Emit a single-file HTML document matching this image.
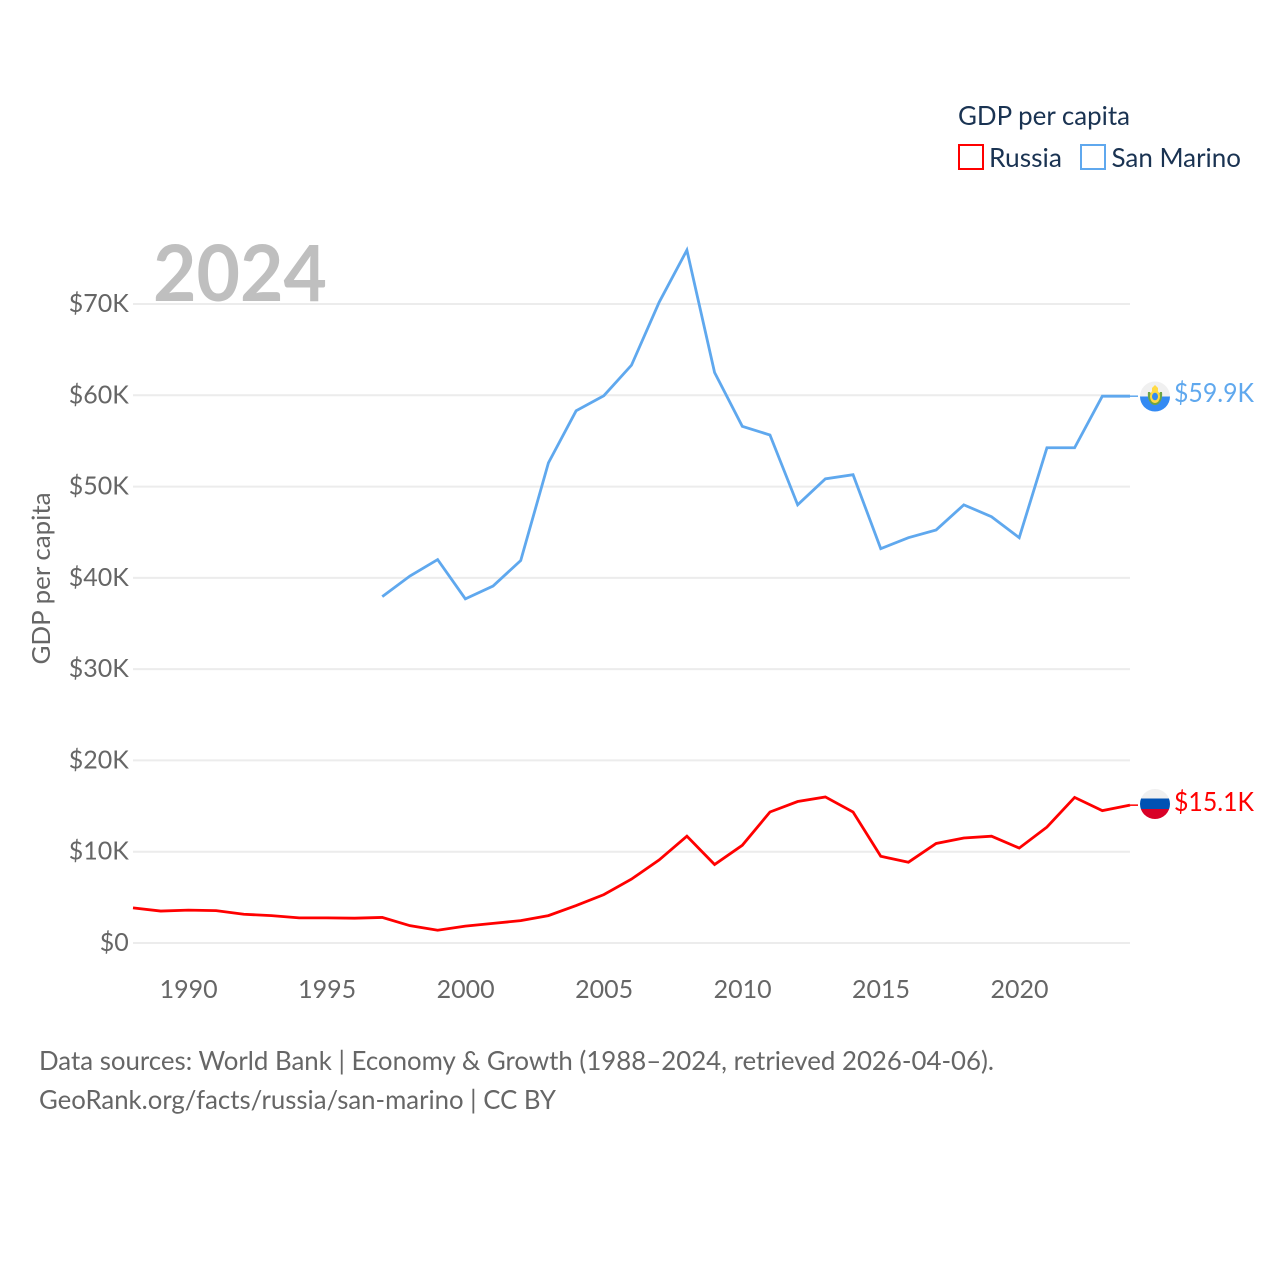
<!DOCTYPE html>
<html lang="en">
<head>
<meta charset="utf-8">
<title>GDP per capita: Russia and San Marino</title>
<style>
html,body{margin:0;padding:0;background:#fff;width:1280px;height:1280px;overflow:hidden}
svg{display:block}
text{font-family:"Lato","Carlito","Liberation Sans",sans-serif}
</style>
</head>
<body>
<svg id="chart" width="1280" height="1280" viewBox="0 0 1280 1280" xmlns="http://www.w3.org/2000/svg">
  <rect width="1280" height="1280" fill="#fff"/>
  <g id="grid"></g>
  <text x="153" y="301" font-size="78" font-weight="700" fill="#bfbfbf" textLength="174" lengthAdjust="spacingAndGlyphs">2024</text>
  <g id="yticks"></g>
  <g id="xticks"></g>
  <text transform="translate(50,578.5) rotate(-90)" text-anchor="middle" font-size="25" fill="#666" textLength="172" lengthAdjust="spacingAndGlyphs">GDP per capita</text>
  <g id="series"></g>

  <g>
    <text x="958" y="125" font-size="26" fill="#1a3352" textLength="172" lengthAdjust="spacingAndGlyphs">GDP per capita</text>
    <g>
      <rect x="959" y="145" width="24" height="24" fill="#fff" stroke="#ff0000" stroke-width="2"/>
      <text x="989" y="167" font-size="26" fill="#1a3352" textLength="73" lengthAdjust="spacingAndGlyphs">Russia</text>
    </g>
    <g>
      <rect x="1081" y="145" width="24" height="24" fill="#fff" stroke="#5fa8ee" stroke-width="2"/>
      <text x="1111.5" y="167" font-size="26" fill="#1a3352" textLength="129.5" lengthAdjust="spacingAndGlyphs">San Marino</text>
    </g>
  </g>

  <g id="flag-sm">
    <clipPath id="clip-sm"><circle cx="1155" cy="396.5" r="15"/></clipPath>
    <g clip-path="url(#clip-sm)">
      <rect x="1140" y="381" width="30" height="15.5" fill="#f0f0f0"/>
      <rect x="1140" y="396.5" width="30" height="15.5" fill="#338af3"/>
    </g>
    <path d="M1148 392 C1147 400 1151 405 1155 405 C1159 405 1163 400 1162 392 L1160 392 L1155 403 L1150 392 Z" fill="#6da544"/>
    <ellipse cx="1155" cy="396.5" rx="5" ry="6.5" fill="#ffda44"/>
    <ellipse cx="1155" cy="396.5" rx="3" ry="3.7" fill="#338af3"/>
    <path d="M1152 391 L1152 388 L1155 385 L1158 388 L1158 391 Z" fill="#ffda44"/>
  </g>
  <text id="label-sm" x="1174" y="402" font-size="26" fill="#5fa8ee" textLength="80" lengthAdjust="spacingAndGlyphs">$59.9K</text>

  <g id="flag-ru">
    <clipPath id="clip-ru"><circle cx="1155" cy="804" r="15"/></clipPath>
    <g clip-path="url(#clip-ru)">
      <rect x="1140" y="789" width="30" height="9.5" fill="#f0f0f0"/>
      <rect x="1140" y="798.5" width="30" height="10.5" fill="#0052b4"/>
      <rect x="1140" y="809" width="30" height="10" fill="#d80027"/>
    </g>
  </g>
  <text id="label-ru" x="1174" y="811" font-size="26" fill="#ff0000" textLength="80" lengthAdjust="spacingAndGlyphs">$15.1K</text>

  <g>
    <text x="39" y="1070" font-size="26" fill="#666" textLength="955" lengthAdjust="spacingAndGlyphs">Data sources: World Bank | Economy &amp; Growth (1988–2024, retrieved 2026-04-06).</text>
    <text x="39" y="1109" font-size="26" fill="#666" textLength="517" lengthAdjust="spacingAndGlyphs">GeoRank.org/facts/russia/san-marino | CC BY</text>
  </g>
</svg>
<script>
const years = [1988,1989,1990,1991,1992,1993,1994,1995,1996,1997,1998,1999,2000,2001,2002,2003,2004,2005,2006,2007,2008,2009,2010,2011,2012,2013,2014,2015,2016,2017,2018,2019,2020,2021,2022,2023,2024];
const russiaValues = [3.85,3.5,3.6,3.55,3.15,3.0,2.75,2.75,2.72,2.8,1.9,1.4,1.85,2.15,2.45,3.0,4.1,5.3,7.0,9.1,11.7,8.6,10.7,14.35,15.5,16.0,14.35,9.5,8.85,10.9,11.5,11.7,10.4,12.7,15.95,14.5,15.1];
const sanMarinoValues = [null,null,null,null,null,null,null,null,null,37.95,40.2,42.0,37.7,39.1,41.9,52.6,58.3,59.95,63.3,70.2,75.9,62.5,56.6,55.65,48.0,50.85,51.3,43.2,44.4,45.25,48.0,46.7,44.4,54.25,54.25,59.9,59.9];
const yTickValues = [0,10,20,30,40,50,60,70];
const yTickLabels = ['$0','$10K','$20K','$30K','$40K','$50K','$60K','$70K'];
const xTickValues = [1990,1995,2000,2005,2010,2015,2020];

const NS = 'http://www.w3.org/2000/svg';
const xScale = function (year) { return 133 + (year - 1988) * (997 / 36); };
const yScale = function (value) { return 943 - value * (639 / 70); };

const grid = document.getElementById('grid');
const yticks = document.getElementById('yticks');
const xticks = document.getElementById('xticks');
const series = document.getElementById('series');

yTickValues.forEach(function (v, i) {
  const line = document.createElementNS(NS, 'line');
  
  
  line.setAttribute('x1', 133);
  line.setAttribute('x2', 1130);
  line.setAttribute('y1', yScale(v));
  line.setAttribute('y2', yScale(v));
  line.setAttribute('stroke', '#ececec');
  line.setAttribute('stroke-width', 2);
  grid.appendChild(line);

  const label = document.createElementNS(NS, 'text');
  
  
  label.setAttribute('x', 128.8);
  label.setAttribute('y', yScale(v) + 8);
  label.setAttribute('text-anchor', 'end');
  label.setAttribute('font-size', 25);
  label.setAttribute('fill', '#666');
  label.textContent = yTickLabels[i];
  yticks.appendChild(label);
});

xTickValues.forEach(function (year) {
  const label = document.createElementNS(NS, 'text');
  
  
  label.setAttribute('x', xScale(year) + 0.3);
  label.setAttribute('y', 998);
  label.setAttribute('text-anchor', 'middle');
  label.setAttribute('font-size', 25);
  label.setAttribute('fill', '#666');
  label.textContent = String(year);
  xticks.appendChild(label);
});

function pathFor(values) {
  let d = '';
  values.forEach(function (v, i) {
    if (v === null) return;
    d += (d === '' ? 'M' : 'L') + xScale(years[i]).toFixed(2) + ' ' + yScale(v).toFixed(2);
  });
  return d;
}

const russiaLine = document.createElementNS(NS, 'path');


russiaLine.setAttribute('d', pathFor(russiaValues));
russiaLine.setAttribute('fill', 'none');
russiaLine.setAttribute('stroke', '#ff0000');
russiaLine.setAttribute('stroke-width', 2.8);
series.appendChild(russiaLine);

const sanMarinoLine = document.createElementNS(NS, 'path');


sanMarinoLine.setAttribute('d', pathFor(sanMarinoValues));
sanMarinoLine.setAttribute('fill', 'none');
sanMarinoLine.setAttribute('stroke', '#5fa8ee');
sanMarinoLine.setAttribute('stroke-width', 2.8);
series.appendChild(sanMarinoLine);

const russiaConnector = document.createElementNS(NS, 'line');


russiaConnector.setAttribute('x1', 1130);
russiaConnector.setAttribute('x2', 1138);
russiaConnector.setAttribute('y1', yScale(russiaValues[russiaValues.length - 1]));
russiaConnector.setAttribute('y2', yScale(russiaValues[russiaValues.length - 1]));
russiaConnector.setAttribute('stroke', '#ff0000');
russiaConnector.setAttribute('stroke-width', 1.5);
series.appendChild(russiaConnector);

const sanMarinoConnector = document.createElementNS(NS, 'line');


sanMarinoConnector.setAttribute('x1', 1130);
sanMarinoConnector.setAttribute('x2', 1138);
sanMarinoConnector.setAttribute('y1', yScale(sanMarinoValues[sanMarinoValues.length - 1]));
sanMarinoConnector.setAttribute('y2', yScale(sanMarinoValues[sanMarinoValues.length - 1]));
sanMarinoConnector.setAttribute('stroke', '#5fa8ee');
sanMarinoConnector.setAttribute('stroke-width', 1.5);
series.appendChild(sanMarinoConnector);
</script>
</body>
</html>
